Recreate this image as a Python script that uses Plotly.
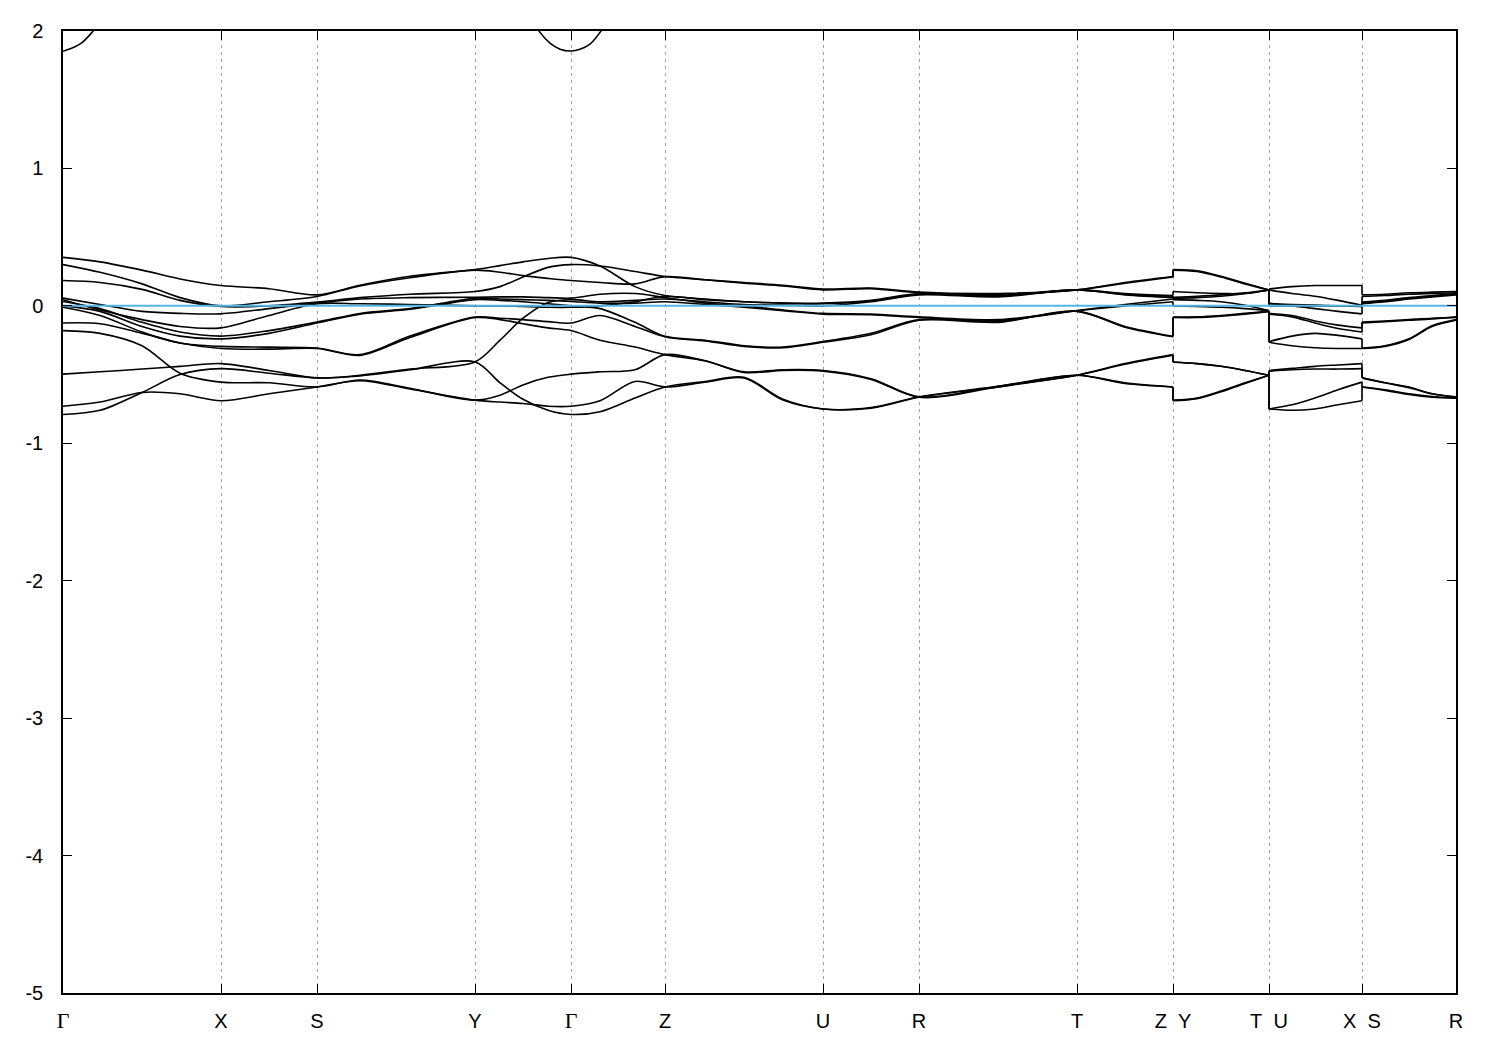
import plotly.graph_objects as go

# ---- high-symmetry path ----
sym_k = [0, 1.58, 2.54, 4.12, 5.08, 6.02, 7.60, 8.56, 10.14, 11.10, 12.06, 12.99, 13.93]
sym_labels = ["Γ", "X", "S", "Y", "Γ", "Z", "U", "R", "T", "Z  Y", "T  U", "X  S", "R"]

# k sample positions of the four continuous path pieces
k_seg1 = [0, 0.37, 0.79, 1.17, 1.58, 2.06, 2.54, 2.97, 3.47, 4.12, 4.37, 4.60, 4.85, 5.08,
          5.37, 5.72, 6.02, 6.42, 6.81, 7.20, 7.60, 8.08, 8.56, 9.35, 10.14, 10.62, 11.10]
k_seg2 = [11.10, 11.34, 11.58, 11.82, 12.06]
k_seg3 = [12.06, 12.29, 12.52, 12.75, 12.99]
k_seg4 = [12.99, 13.22, 13.46, 13.69, 13.93]

# ---- band energies (eV), seg1 (27) + seg2 (5) + seg3 (5) + seg4 (5) ----
band_01 = [0.353, 0.32, 0.26, 0.196, 0.148, 0.125, 0.08, 0.15, 0.215, 0.264, 0.293, 0.32, 0.345, 0.353,
           0.29, 0.14, 0.075, 0.05, 0.03, 0.02, 0.02, 0.04, 0.09, 0.075, 0.116, 0.09, 0.075,
           0.104, 0.095, 0.09, 0.09, 0.116,
           0.02, 0.0, -0.02, -0.04, -0.058,
           0.015, 0.03, 0.05, 0.065, 0.08]
band_02 = [0.30, 0.244, 0.16, 0.06, 0.0, 0.03, 0.068, 0.145, 0.205, 0.26, 0.245, 0.22, 0.20, 0.184,
           0.17, 0.16, 0.213, 0.19, 0.17, 0.15, 0.123, 0.13, 0.1, 0.09, 0.116, 0.17, 0.213,
           0.264, 0.255, 0.215, 0.165, 0.116,
           0.123, 0.14, 0.148, 0.148, 0.148,
           0.08, 0.085, 0.095, 0.1, 0.104]
band_03 = [0.184, 0.17, 0.12, 0.04, -0.005, 0.0, 0.027, 0.06, 0.085, 0.104, 0.14, 0.21, 0.28, 0.30,
           0.29, 0.25, 0.213, 0.19, 0.165, 0.145, 0.116, 0.125, 0.095, 0.085, 0.116, 0.165, 0.21,
           0.26, 0.25, 0.21, 0.16, 0.116,
           0.116, 0.09, 0.07, 0.04, 0.005,
           0.068, 0.075, 0.085, 0.09, 0.095]
band_04 = [0.056, 0.01, -0.04, -0.055, -0.058, -0.02, 0.02, 0.05, 0.06, 0.063, 0.065, 0.065, 0.06, 0.056,
           0.085, 0.09, 0.06, 0.02, 0.0, -0.03, -0.055, -0.06, -0.08, -0.1, -0.034, 0.01, 0.05,
           0.045, 0.04, 0.03, 0.005, -0.035,
           -0.055, -0.07, -0.11, -0.14, -0.16,
           -0.118, -0.11, -0.1, -0.09, -0.085]
band_05 = [0.032, -0.02, -0.12, -0.19, -0.22, -0.18, -0.118, -0.055, -0.02, 0.055, 0.05, 0.045, 0.04, 0.032,
           0.02, 0.02, 0.03, 0.01, -0.01, -0.035, -0.06, -0.065, -0.085, -0.105, -0.036, 0.0, 0.03,
           0.0, -0.005, -0.01, -0.02, -0.035,
           -0.06, -0.08, -0.125, -0.165, -0.19,
           -0.125, -0.115, -0.105, -0.095, -0.08]
band_06 = [0.0, -0.04, -0.15, -0.22, -0.24, -0.2, -0.125, -0.06, -0.025, 0.045, 0.04, 0.03, 0.015, 0.0,
           -0.02, -0.12, -0.222, -0.25, -0.29, -0.30, -0.26, -0.2, -0.1, -0.115, -0.038, -0.15, -0.222,
           -0.082, -0.08, -0.07, -0.055, -0.04,
           -0.26, -0.22, -0.20, -0.215, -0.24,
           -0.307, -0.29, -0.24, -0.145, -0.1]
band_07 = [0.045, -0.03, -0.10, -0.15, -0.16, -0.07, 0.015, 0.015, 0.01, 0.0, 0.0, -0.005, -0.01, -0.01,
           0.0, 0.03, 0.07, 0.045, 0.03, 0.02, 0.015, 0.035, 0.085, 0.07, 0.116, 0.085, 0.07,
           0.063, 0.07, 0.08, 0.095, 0.116,
           0.015, 0.01, 0.005, 0.0, -0.005,
           0.02, 0.035, 0.055, 0.07, 0.085]
band_08 = [-0.01, -0.07, -0.19, -0.27, -0.295, -0.30, -0.307, -0.355, -0.22, -0.082, -0.09, -0.10, -0.115, -0.125,
           -0.07, -0.15, -0.225, -0.255, -0.295, -0.305, -0.265, -0.21, -0.105, -0.12, -0.04, -0.155, -0.225,
           -0.085, -0.085, -0.075, -0.06, -0.04,
           -0.265, -0.29, -0.305, -0.31, -0.31,
           -0.31, -0.295, -0.245, -0.15, -0.105]
band_09 = [-0.125, -0.13, -0.2, -0.27, -0.31, -0.315, -0.31, -0.36, -0.23, -0.085, -0.10, -0.13, -0.16, -0.18,
           -0.25, -0.30, -0.355, -0.40, -0.48, -0.465, -0.47, -0.53, -0.662, -0.585, -0.505, -0.42, -0.355,
           -0.408, -0.42, -0.44, -0.47, -0.505,
           -0.47, -0.455, -0.44, -0.43, -0.42,
           -0.524, -0.56, -0.59, -0.64, -0.662]
band_10 = [-0.497, -0.48, -0.46, -0.44, -0.42, -0.47, -0.524, -0.505, -0.46, -0.408, -0.25, -0.09, 0.025, 0.045,
           0.03, 0.04, 0.05, 0.03, 0.01, 0.005, 0.0, 0.03, 0.08, 0.065, 0.116, 0.08, 0.06,
           0.055, 0.06, 0.07, 0.09, 0.116,
           0.0, 0.0, 0.0, 0.0, 0.0,
           0.027, 0.04, 0.06, 0.075, 0.09]
band_11 = [-0.79, -0.76, -0.63, -0.50, -0.457, -0.49, -0.524, -0.51, -0.465, -0.408, -0.56, -0.68, -0.76, -0.79,
           -0.77, -0.67, -0.59, -0.55, -0.52, -0.68, -0.75, -0.74, -0.662, -0.585, -0.505, -0.56, -0.59,
           -0.686, -0.67, -0.62, -0.56, -0.505,
           -0.75, -0.72, -0.67, -0.61, -0.555,
           -0.59, -0.61, -0.64, -0.66, -0.67]
band_12 = [-0.18, -0.2, -0.29, -0.49, -0.555, -0.56, -0.59, -0.54, -0.60, -0.686, -0.65, -0.575, -0.52, -0.497,
           -0.48, -0.465, -0.355, -0.40, -0.485, -0.47, -0.475, -0.535, -0.665, -0.59, -0.505, -0.425, -0.36,
           -0.41, -0.42, -0.44, -0.47, -0.505,
           -0.475, -0.465, -0.46, -0.46, -0.457,
           -0.524, -0.56, -0.595, -0.64, -0.665]
band_13 = [-0.73, -0.70, -0.63, -0.64, -0.69, -0.64, -0.59, -0.545, -0.605, -0.686, -0.70, -0.71, -0.73, -0.73,
           -0.69, -0.55, -0.59, -0.555, -0.525, -0.685, -0.75, -0.745, -0.665, -0.59, -0.505, -0.565, -0.59,
           -0.69, -0.675, -0.625, -0.565, -0.505,
           -0.75, -0.76, -0.75, -0.72, -0.69,
           -0.59, -0.615, -0.645, -0.665, -0.672]

# conduction band visible near the two Γ points
high_k_a = [0, 0.05, 0.12, 0.19, 0.24, 0.29, 0.35]
high_e_a = [1.852, 1.865, 1.885, 1.915, 1.95, 1.99, 2.05]
high_k_b = [4.72, 4.77, 4.87, 4.97, 5.08, 5.17, 5.27, 5.37, 5.42]
high_e_b = [2.05, 1.99, 1.912, 1.868, 1.855, 1.868, 1.905, 1.99, 2.05]

fermi_level = 0.0
y_ticks = [-5, -4, -3, -2, -1, 0, 1, 2]

bands = [band_01, band_02, band_03, band_04, band_05, band_06, band_07,
         band_08, band_09, band_10, band_11, band_12, band_13]
segments = [k_seg1, k_seg2, k_seg3, k_seg4]

# build curve pieces (spline) and the vertical jumps at path breaks (linear)
cx, cy, jx, jy = [], [], [], []
for b in bands:
    start = 0
    ends = []
    for seg in segments:
        n = len(seg)
        vals = b[start:start + n]
        cx.extend(seg + [None])
        cy.extend(vals + [None])
        ends.append((seg[0], vals[0], seg[-1], vals[-1]))
        start += n
    for i in range(len(ends) - 1):
        jx.extend([ends[i][2], ends[i + 1][0], None])
        jy.extend([ends[i][3], ends[i + 1][1], None])

fig = go.Figure()
fig.add_trace(go.Scatter(x=cx, y=cy, mode="lines",
                         line=dict(color="black", width=1.6, shape="spline", smoothing=0.9),
                         connectgaps=False, hoverinfo="skip"))
fig.add_trace(go.Scatter(x=jx, y=jy, mode="lines",
                         line=dict(color="black", width=1.6), connectgaps=False, hoverinfo="skip"))
for hk, he in [(high_k_a, high_e_a), (high_k_b, high_e_b)]:
    fig.add_trace(go.Scatter(x=hk, y=he, mode="lines",
                             line=dict(color="black", width=1.6, shape="spline"), hoverinfo="skip"))
fig.add_trace(go.Scatter(x=[sym_k[0], sym_k[-1]], y=[fermi_level, fermi_level], mode="lines",
                         line=dict(color="#56B4E9", width=2), hoverinfo="skip"))

ticktext = []
for lab in sym_labels:
    if lab == "Γ":
        ticktext.append("<span style='font-family:Liberation Serif, DejaVu Serif, serif;font-size:22px'>Γ</span>")
    else:
        ticktext.append(lab.replace(" ", "\u00a0"))

fig.update_layout(
    width=1500, height=1050,
    margin=dict(l=55, r=52, t=18, b=65),
    paper_bgcolor="white", plot_bgcolor="white",
    showlegend=False,
    font=dict(family="Liberation Sans, Arial, sans-serif", size=20, color="black"),
)
fig.update_xaxes(
    range=[sym_k[0], sym_k[-1]], tickmode="array", tickvals=sym_k, ticktext=ticktext,
    showgrid=True, gridcolor="#a0a0a0", gridwidth=1, griddash="3px,4px",
    ticks="inside", ticklen=9, tickcolor="black", tickwidth=1,
    showline=True, linecolor="black", linewidth=1.5, mirror="allticks",
    zeroline=False, ticklabelstandoff=9,
)
fig.update_yaxes(
    range=[-5, 2], tickmode="array", tickvals=y_ticks, ticktext=[str(v) for v in y_ticks],
    showgrid=False, ticks="inside", ticklen=9, tickcolor="black", tickwidth=1,
    showline=True, linecolor="black", linewidth=1.5, mirror="allticks",
    zeroline=False, ticklabelstandoff=14,
)

fig.write_html("out.html")
